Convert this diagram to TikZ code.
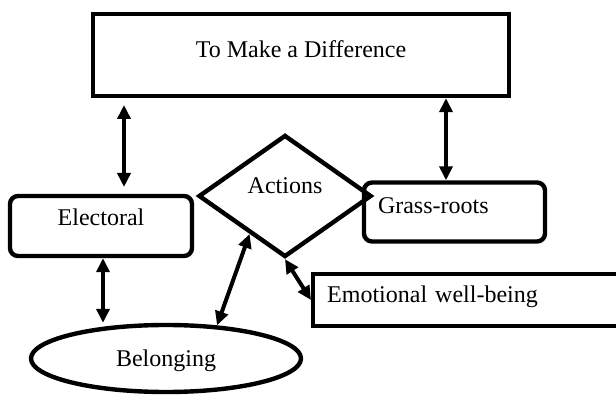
\documentclass[tikz,border=0pt]{standalone}
\usepackage{fontspec}
\setmainfont{Liberation Serif}
\usetikzlibrary{shapes.geometric,arrows.meta}

\begin{document}
\begin{tikzpicture}[x=0.5pt,y=-0.5pt,
				every node/.style={draw,line width=2.2pt,inner sep=0pt,
					font=\fontsize{12}{14}\selectfont,text height=9pt},
				box/.style={rectangle},
				roundbox/.style={rectangle,rounded corners=4pt},
				leftbox/.style={rectangle,align=left,inner xsep=7pt},
				link/.style={line width=2pt,{Triangle[length=7pt,width=6.5pt]}-{Triangle[length=7pt,width=6.5pt]}}]
\useasboundingbox (0,0) rectangle (616,395);
\node[box,minimum width=208pt,minimum height=41pt,text depth=6pt] (goal) at (301,55) {To Make a Difference};
\node[roundbox,minimum width=91pt,minimum height=30pt,text depth=9.5pt] (elect) at (101,226) {Electoral};
\node[diamond,minimum width=86.5pt,minimum height=61pt,text depth=11.5pt] (act) at (285,196) {Actions};
\node[roundbox,leftbox,text width=76.5pt,minimum height=29.5pt,text depth=7pt] (grass) at (454.5,212) {Grass-roots};
\node[leftbox,text width=171pt,minimum height=26pt,text depth=6pt,anchor=west] (emo) at (311,300) {Emotional well-being};
\node[ellipse,minimum width=135pt,minimum height=33.5pt,text depth=1pt] (bel) at (166,358.5) {Belonging};
% free ends of the left arrow
\coordinate (up) at (124,105);
\coordinate (down) at (124,187);
\draw[link] (up) -- (down);
\draw[link] (goal.south -| 446,0) -- (grass.north -| 446,0);
\draw[link] (elect.south -| 103,0) -- (bel.north -| 103,0);
\draw[link] (bel.33) -- (act.227);
\draw[link] (act.south) -- (emo.west);
\end{tikzpicture}
\end{document}
